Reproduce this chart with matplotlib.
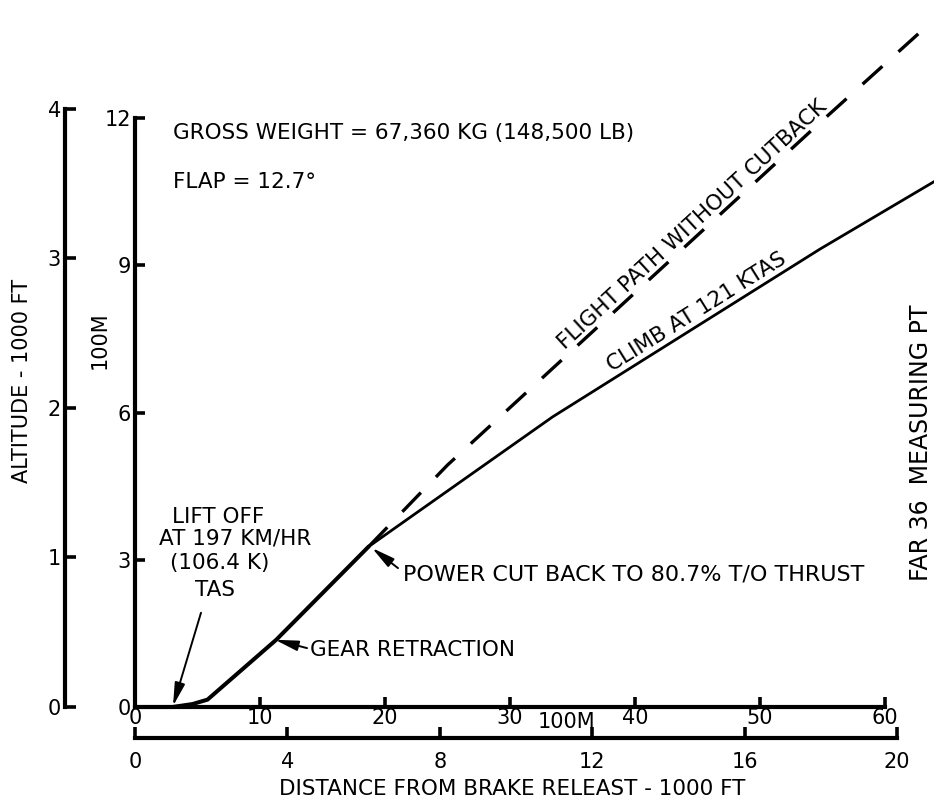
import matplotlib
matplotlib.use("Agg")
import matplotlib.pyplot as plt

plt.rcParams["font.family"] = ["DejaVu Sans"]
plt.rcParams["font.size"] = 15.5

# distance in 100 m, height in 100 m
takeoff_x = [0, 3.0, 4.6, 5.8, 11.3, 18.7]
takeoff_y = [0, 0, 0.06, 0.15, 1.37, 3.27]
climb_x = [18.7, 33.4, 54.8, 63.9]
climb_y = [3.27, 5.91, 9.33, 10.70]
nocut_x = [18.7, 25.0, 54.6, 63.9]
nocut_y = [3.27, 4.93, 11.86, 14.0]

x_ticks_m = [0, 10, 20, 30, 40, 50, 60]
y_ticks_m = [0, 3, 6, 9, 12]
x_ticks_ft = [0, 4, 8, 12, 16, 20]
y_ticks_ft = [0, 1, 2, 3, 4]

FT_PER_100M = 100 / 304.8
W, H = 934, 807
XMAX = (W - 135) / 12.5
YMAX = 707 / 49.08

fig = plt.figure(figsize=(W / 100, H / 100), dpi=100)

# main axes: 100 m units
ax = fig.add_axes([135 / W, 1 - 707 / H, 1 - 135 / W, 707 / H])
ax.set_xlim(0, XMAX)
ax.set_ylim(0, YMAX)
ax.patch.set_alpha(0)
for s in ["top", "right"]:
    ax.spines[s].set_visible(False)
for s in ["left", "bottom"]:
    ax.spines[s].set_linewidth(3)
    ax.spines[s].set_capstyle("projecting")
ax.spines["left"].set_bounds(0, 12)
ax.spines["bottom"].set_bounds(0, 60)
ax.set_xticks(x_ticks_m)
ax.set_yticks(y_ticks_m)
ax.tick_params(axis="both", direction="in", length=7, width=2.6, labelsize=15)
ax.tick_params(axis="x", pad=1)
ax.tick_params(axis="y", pad=3)

ax.plot(takeoff_x, takeoff_y, color="black", lw=2.9, solid_capstyle="round", clip_on=False)
ax.plot(climb_x, climb_y, color="black", lw=2.0, clip_on=False)
ax.plot(nocut_x, nocut_y, color="black", lw=2.4, dashes=(8, 6.5), clip_on=False)

# left axis: 1000 ft
axl = fig.add_axes([65 / W, 1 - 707 / H, 0.001, 707 / H])
axl.set_ylim(0, YMAX * FT_PER_100M)
axl.patch.set_alpha(0)
for s in ["top", "right", "bottom"]:
    axl.spines[s].set_visible(False)
axl.spines["left"].set_linewidth(3)
axl.spines["left"].set_capstyle("projecting")
axl.spines["left"].set_bounds(0, 4)
axl.set_xticks([])
axl.set_yticks(y_ticks_ft)
axl.tick_params(axis="y", direction="in", length=8, width=2.6, labelsize=15, pad=3)

# lower axis: 1000 ft
axb = fig.add_axes([135 / W, 1 - 738 / H, 1 - 135 / W, 0.01])
axb.set_xlim(0, XMAX * FT_PER_100M)
axb.patch.set_alpha(0)
for s in ["top", "right", "left"]:
    axb.spines[s].set_visible(False)
axb.spines["bottom"].set_linewidth(3)
axb.spines["bottom"].set_capstyle("projecting")
axb.spines["bottom"].set_bounds(0, 20)
axb.set_yticks([])
axb.set_xticks(x_ticks_ft)
axb.tick_params(axis="x", direction="in", length=8, width=2.6, labelsize=15, pad=10)

# axis titles
fig.text(22 / W, 1 - 381 / H, "ALTITUDE - 1000 FT", rotation=90, ha="center", va="center", fontsize=15)
fig.text(100 / W, 1 - 340 / H, "100M", rotation=90, ha="center", va="center", fontsize=15)
fig.text(566 / W, 1 - 722 / H, "100M", ha="center", va="center", fontsize=15)
fig.text(512 / W, 1 - 789 / H, "DISTANCE FROM BRAKE RELEAST - 1000 FT", ha="center", va="center", fontsize=15.5)
fig.text(921 / W, 1 - 443 / H, "FAR 36  MEASURING PT", rotation=90, ha="center", va="center", fontsize=17)

# notes
ax.text(3.04, 11.70, "GROSS WEIGHT = 67,360 KG (148,500 LB)", ha="left", va="center")
ax.text(3.04, 10.70, "FLAP = 12.7°", ha="left", va="center")

ax.text(2.96, 3.87, "LIFT OFF", ha="left", va="center")
ax.text(1.92, 3.44, "AT 197 KM/HR", ha="left", va="center")
ax.text(2.80, 2.93, "(106.4 K)", ha="left", va="center")
ax.text(4.80, 2.38, "TAS", ha="left", va="center")

arrow = dict(arrowstyle="-|>,head_length=0.9,head_width=0.2", color="black", lw=1.4, shrinkA=0, shrinkB=0)
ax.annotate("", xy=(3.04, 0.02), xytext=(5.28, 1.92), arrowprops=arrow)
ax.annotate("", xy=(11.2, 1.37), xytext=(13.76, 1.20), arrowprops=arrow)
ax.annotate("", xy=(18.96, 3.24), xytext=(21.04, 2.83), arrowprops=arrow)

ax.text(14.0, 1.16, "GEAR RETRACTION", ha="left", va="center")
ax.text(21.44, 2.69, "POWER CUT BACK TO 80.7% T/O THRUST", ha="left", va="center", fontsize=16)

ax.text(44.96, 8.05, "CLIMB AT 121 KTAS", rotation=32, rotation_mode="anchor", ha="center", va="center")
ax.text(44.56, 9.83, "FLIGHT PATH WITHOUT CUTBACK", rotation=42.6, rotation_mode="anchor", ha="center", va="center")

fig.savefig("out.png", dpi=100)
